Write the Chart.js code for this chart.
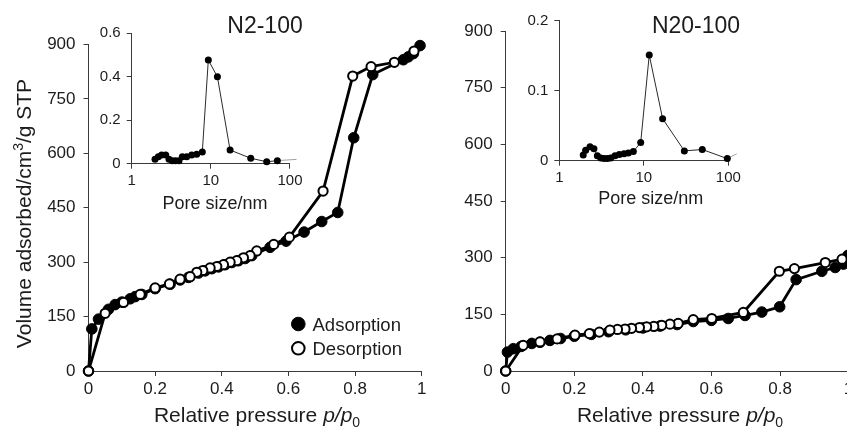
<!DOCTYPE html>
<html>
<head>
<meta charset="utf-8">
<script src="https://cdn.jsdelivr.net/npm/chart.js@4.4.1/dist/chart.umd.min.js"></script>
<style>
  html, body { margin: 0; padding: 0; background: #fff; overflow: hidden; width: 847px; height: 429px; }
  canvas { position: absolute; left: 0; top: 0; }
</style>
</head>
<body>
<canvas id="mainN2" width="870" height="429"></canvas>
<canvas id="mainN20" width="870" height="429"></canvas>
<canvas id="insetN2" width="870" height="429"></canvas>
<canvas id="insetN20" width="870" height="429"></canvas>
<script>
// ---------------- data ----------------
const n2AdsP = [0, 0.01, 0.03, 0.06, 0.08, 0.10, 0.125, 0.14, 0.16, 0.20, 0.245, 0.275, 0.30, 0.33, 0.35, 0.37, 0.39, 0.41, 0.43, 0.45, 0.47, 0.49, 0.545, 0.593, 0.647, 0.700, 0.748, 0.796, 0.853, 0.945, 0.960, 0.975, 0.995];
const n2AdsV = [0, 116, 143, 170, 183, 190, 199, 205, 211, 227, 239, 251, 258, 270, 276, 282, 287, 293, 299, 304, 310, 318, 341, 358, 383, 412, 437, 643, 817, 858, 866, 875, 897];
const n2DesP = [0.977, 0.918, 0.848, 0.793, 0.704, 0.603, 0.556, 0.505, 0.485, 0.465, 0.445, 0.425, 0.405, 0.385, 0.365, 0.343, 0.325, 0.305, 0.275, 0.243, 0.200, 0.155, 0.105, 0.050, 0];
const n2DesV = [882, 851, 839, 813, 496, 369, 349, 331, 318, 312, 304, 300, 293, 288, 284, 277, 272, 260, 253, 240, 229, 211, 189, 159, 0];

const n20AdsP = [0, 0.005, 0.022, 0.045, 0.076, 0.10, 0.129, 0.16, 0.20, 0.25, 0.30, 0.35, 0.40, 0.45, 0.50, 0.547, 0.600, 0.649, 0.698, 0.747, 0.799, 0.847, 0.922, 0.961, 0.985, 0.998];
const n20AdsV = [0, 50, 59, 65, 73, 76, 81, 86, 92, 97, 104, 109, 114, 119, 123, 131, 134, 139, 147, 156, 170, 242, 264, 274, 283, 306];
const n20DesP = [0.981, 0.932, 0.842, 0.798, 0.693, 0.601, 0.547, 0.503, 0.479, 0.455, 0.432, 0.411, 0.390, 0.367, 0.348, 0.326, 0.304, 0.273, 0.244, 0.202, 0.150, 0.100, 0.051, 0];
const n20DesV = [296, 287, 271, 264, 155, 139, 136, 126, 124, 121, 118, 117, 115, 113, 111, 110, 108, 103, 99, 95, 85, 77, 68, 0];

const n2PoreD = [1.97, 2.17, 2.39, 2.69, 2.96, 3.26, 3.59, 3.96, 4.36, 4.95, 5.73, 6.62, 7.8, 9.29, 12.1, 17.5, 31.9, 50.8, 69.2, 121];
const n2PoreV = [0.020, 0.032, 0.040, 0.040, 0.020, 0.014, 0.014, 0.014, 0.032, 0.032, 0.040, 0.043, 0.054, 0.477, 0.400, 0.063, 0.025, 0.009, 0.014, 0.020];
const n20PoreD = [1.92, 2.05, 2.31, 2.57, 2.82, 3.09, 3.38, 3.70, 4.06, 4.56, 5.13, 5.83, 6.56, 7.52, 9.19, 11.6, 16.7, 30.2, 49.2, 97.3, 126];
const n20PoreV = [0.008, 0.015, 0.020, 0.017, 0.007, 0.004, 0.003, 0.003, 0.004, 0.007, 0.009, 0.010, 0.011, 0.013, 0.026, 0.151, 0.060, 0.014, 0.016, 0.003, 0.010];

const mainXTicks = [0, 0.2, 0.4, 0.6, 0.8, 1];
const mainXLabels = ['0', '0.2', '0.4', '0.6', '0.8', '1'];
const mainYTicks = [0, 150, 300, 450, 600, 750, 900];
const mainYLabels = ['0', '150', '300', '450', '600', '750', '900'];
const insetXTicks = [1, 10, 100];
const insetXLabels = ['1', '10', '100'];
const n2InsetYTicks = [0, 0.2, 0.4, 0.6];
const n2InsetYLabels = ['0', '0.2', '0.4', '0.6'];
const n20InsetYTicks = [0, 0.1, 0.2];
const n20InsetYLabels = ['0', '0.1', '0.2'];

const panelTitles = ['N2-100', 'N20-100'];
const seriesNames = ['Adsorption', 'Desorption'];
const yTitleParts = ['Volume adsorbed/cm', '3', '/g STP'];
const xTitleParts = ['Relative pressure ', 'p/p', '0'];
const insetXTitle = 'Pore size/nm';

// ---------------- styling ----------------
const FONT = "'Liberation Sans', Arial, Helvetica, sans-serif";
const W = 870, H = 429;
const TXT = '#1c1c1c';
const AX = '#3a3a3a';
const XBOX = 40;

function zip(xs, ys) { return xs.map((x, i) => ({ x: x, y: ys[i] })); }

function axis(o) {
  return {
    type: o.type || 'linear',
    min: o.min, max: o.max,
    afterFit: s => { if (o.horizontal) { s.height = XBOX; } else { s.width = o.boxW; } },
    afterBuildTicks: s => { s.ticks = o.ticks.map(v => ({ value: v })); },
    ticks: {
      autoSkip: false, maxRotation: 0, minRotation: 0, padding: o.pad,
      color: TXT, font: { family: FONT, size: o.size },
      callback: (v, i) => o.labels[i]
    },
    grid: { display: true, drawOnChartArea: false, drawTicks: true, tickLength: 5, tickWidth: 1, color: AX, lineWidth: 1 },
    border: { display: true, color: AX, width: 1 }
  };
}

function textPlugin(id, items) {
  return {
    id: id,
    afterDraw(chart) {
      const ctx = chart.ctx;
      items.forEach(it => {
        ctx.save();
        if (it.kind === 'circle') {
          ctx.beginPath();
          ctx.arc(it.x, it.y, it.r, 0, Math.PI * 2);
          ctx.fillStyle = it.fill;
          ctx.fill();
          ctx.lineWidth = it.lw;
          ctx.strokeStyle = '#000';
          ctx.stroke();
          ctx.restore();
          return;
        }
        ctx.fillStyle = TXT;
        ctx.textBaseline = 'alphabetic';
        ctx.textAlign = 'left';
        let total = 0;
        const widths = it.runs.map(r => { ctx.font = r.font; const w = ctx.measureText(r.text).width; total += w; return w; });
        ctx.translate(it.x, it.y);
        if (it.rotate) ctx.rotate(it.rotate);
        let x = it.align === 'left' ? 0 : -total / 2;
        it.runs.forEach((r, i) => { ctx.font = r.font; ctx.fillText(r.text, x, r.dy || 0); x += widths[i]; });
        ctx.restore();
      });
    }
  };
}

function makeChart(id, area, datasets, xAx, yAx, texts) {
  return new Chart(document.getElementById(id), {
    type: 'scatter',
    data: { datasets: datasets },
    options: {
      responsive: false, animation: false, devicePixelRatio: 1, events: [],
      layout: { padding: { left: area.L - yAx.boxW, right: W - area.R, top: area.T, bottom: H - area.B - XBOX } },
      plugins: { legend: { display: false }, tooltip: { enabled: false }, title: { display: false } },
      scales: { x: axis(xAx), y: axis(yAx) }
    },
    plugins: [textPlugin(id + 'Text', texts)]
  });
}

function isoSets(adsP, adsV, desP, desV) {
  return [
    { label: seriesNames[1], data: zip(desP, desV), showLine: true, order: 0, clip: false,
      borderColor: '#000', borderWidth: 2.8, pointRadius: 4.6, pointBorderWidth: 2,
      pointBackgroundColor: '#fff', pointBorderColor: '#000', tension: 0 },
    { label: seriesNames[0], data: zip(adsP, adsV), showLine: true, order: 1, clip: false,
      borderColor: '#000', borderWidth: 2.8, pointRadius: 5.3, pointBorderWidth: 1,
      pointBackgroundColor: '#000', pointBorderColor: '#000', tension: 0 }
  ];
}

function poreSet(d, v) {
  const last = d.length - 1;
  return [{ data: zip(d, v), showLine: true, clip: false, borderWidth: 1,
    borderColor: '#2a2a2a',
    segment: { borderColor: c => (c.p1DataIndex === last ? '#a0a0a0' : '#2a2a2a') },
    pointRadius: d.map((_, i) => (i === last ? 0 : 3.5)),
    pointBackgroundColor: '#000', pointBorderColor: '#000', pointBorderWidth: 0, tension: 0 }];
}

const big = 'px ' + FONT;
function xTitle(cx) {
  return { x: cx, y: 421.5, runs: [
    { text: xTitleParts[0], font: '21' + big },
    { text: xTitleParts[1], font: 'italic 21' + big },
    { text: xTitleParts[2], font: '14' + big, dy: 5 }
  ] };
}

// ---------------- main N2-100 ----------------
makeChart('mainN2', { L: 88.5, R: 421.7, T: 44.5, B: 371 },
  isoSets(n2AdsP, n2AdsV, n2DesP, n2DesV),
  { horizontal: true, min: 0, max: 1, ticks: mainXTicks, labels: mainXLabels, pad: 3, size: 17 },
  { boxW: 60, min: 0, max: 900, ticks: mainYTicks, labels: mainYLabels, pad: 8, size: 17 },
  [
    { x: 265, y: 32.5, runs: [{ text: panelTitles[0], font: '23' + big }] },
    { x: 31, y: 213.5, rotate: -Math.PI / 2, runs: [
      { text: yTitleParts[0], font: '21' + big },
      { text: yTitleParts[1], font: '14' + big, dy: -8 },
      { text: yTitleParts[2], font: '21' + big }
    ] },
    xTitle(257),
    { kind: 'circle', x: 298.3, y: 324, r: 6.8, fill: '#000', lw: 1 },
    { kind: 'circle', x: 298.3, y: 348.3, r: 6.3, fill: '#fff', lw: 2 },
    { x: 312.5, y: 330.5, align: 'left', runs: [{ text: seriesNames[0], font: '18.5' + big }] },
    { x: 312.5, y: 354.8, align: 'left', runs: [{ text: seriesNames[1], font: '18.5' + big }] }
  ]);

// ---------------- main N20-100 ----------------
makeChart('mainN20', { L: 505.7, R: 848.6, T: 31, B: 371 },
  isoSets(n20AdsP, n20AdsV, n20DesP, n20DesV),
  { horizontal: true, min: 0, max: 1, ticks: mainXTicks, labels: mainXLabels, pad: 3, size: 17 },
  { boxW: 60, min: 0, max: 900, ticks: mainYTicks, labels: mainYLabels, pad: 8, size: 17 },
  [
    { x: 696, y: 32.5, runs: [{ text: panelTitles[1], font: '23' + big }] },
    xTitle(680)
  ]);

// ---------------- inset N2-100 ----------------
makeChart('insetN2', { L: 131.7, R: 290, T: 33.3, B: 163.7 },
  poreSet(n2PoreD, n2PoreV),
  { horizontal: true, type: 'logarithmic', min: 1, max: 100, ticks: insetXTicks, labels: insetXLabels, pad: 3, size: 15 },
  { boxW: 45, min: 0, max: 0.6, ticks: n2InsetYTicks, labels: n2InsetYLabels, pad: 6, size: 15 },
  [ { x: 215, y: 209.3, runs: [{ text: insetXTitle, font: '18' + big }] } ]);

// ---------------- inset N20-100 ----------------
makeChart('insetN20', { L: 559.3, R: 728.3, T: 20.7, B: 160.7 },
  poreSet(n20PoreD, n20PoreV),
  { horizontal: true, type: 'logarithmic', min: 1, max: 100, ticks: insetXTicks, labels: insetXLabels, pad: 3, size: 15 },
  { boxW: 45, min: 0, max: 0.2, ticks: n20InsetYTicks, labels: n20InsetYLabels, pad: 6, size: 15 },
  [ { x: 650.7, y: 204.3, runs: [{ text: insetXTitle, font: '18' + big }] } ]);
</script>
</body>
</html>
